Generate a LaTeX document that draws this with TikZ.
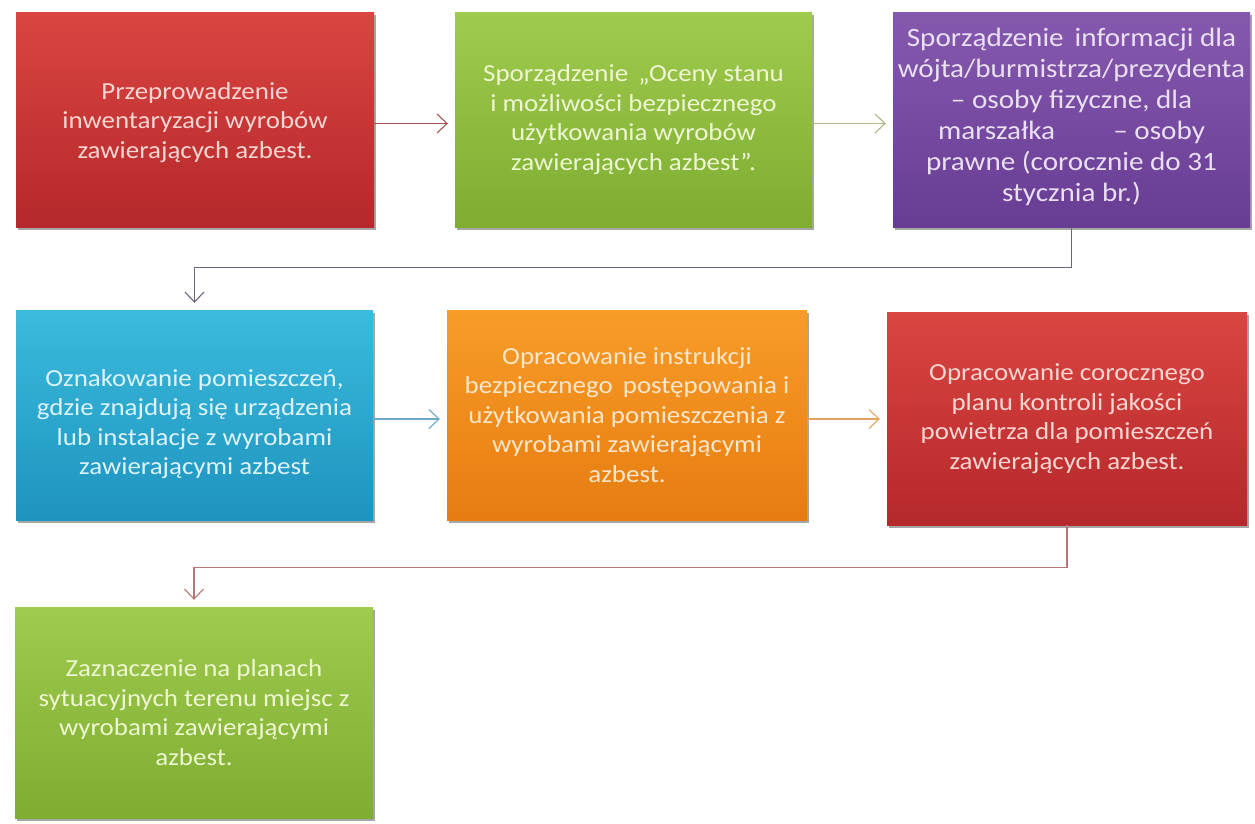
\documentclass[tikz,border=0pt]{standalone}
\usepackage{fontspec}
\setmainfont{Carlito}[FakeStretch=1.1]
\usetikzlibrary{arrows.meta,shadows}
\definecolor{redT}{HTML}{DA4541}
\definecolor{redB}{HTML}{B5282B}
\definecolor{redTxt}{HTML}{F7D6D2}
\definecolor{grnT}{HTML}{9FCB4E}
\definecolor{grnB}{HTML}{7EAD31}
\definecolor{grnTxt}{HTML}{EEF6D2}
\definecolor{purT}{HTML}{8459AE}
\definecolor{purB}{HTML}{673C93}
\definecolor{purTxt}{HTML}{EADFF3}
\definecolor{bluT}{HTML}{3BBBDD}
\definecolor{bluB}{HTML}{1E93BE}
\definecolor{bluTxt}{HTML}{DDF3FA}
\definecolor{orgT}{HTML}{F89C28}
\definecolor{orgB}{HTML}{E67C10}
\definecolor{orgTxt}{HTML}{FDE7CB}
\definecolor{cRed}{HTML}{A8524F}
\definecolor{cGrn}{HTML}{A9BA86}
\definecolor{cPur}{HTML}{6F6478}
\definecolor{cBlu}{HTML}{6AAAC2}
\definecolor{cOrg}{HTML}{E3A262}
\definecolor{cRed2}{HTML}{B87574}
\tikzset{
  card/.style={inner sep=0pt, draw=none,
    drop shadow={shadow xshift=2pt, shadow yshift=-3pt, opacity=0.35, fill=black}},
  redcard/.style={card, top color=redT, bottom color=redB},
  grncard/.style={card, top color=grnT, bottom color=grnB},
  purcard/.style={card, top color=purT, bottom color=purB},
  blucard/.style={card, top color=bluT, bottom color=bluB},
  orgcard/.style={card, top color=orgT, bottom color=orgB},
  txt/.style={inner sep=0pt, align=center, font=\fontsize{24.5}{29.5}\selectfont},
  bigtxt/.style={txt, font=\fontsize{26.5}{31}\selectfont},
  conn/.style={line width=1.1pt, -{Straight Barb[length=10pt,width=19pt,line width=1.1pt]}, shorten >=7pt},
}
\begin{document}
\begin{tikzpicture}[x=1pt,y=-1pt]
\useasboundingbox (0,0) rectangle (1255,823);
\fill[white] (0,0) rectangle (1255,823);
% row 1
\node[redcard, minimum width=358pt, minimum height=215pt] (b1) at (195,119.5) {};
\node[txt, text=redTxt] (t1) at ([yshift=-3pt]b1.center)
  {Przeprowadzenie\\inwentaryzacji wyrobów\\zawierających azbest.};
\node[grncard, minimum width=357pt, minimum height=215pt] (b2) at (633.5,119.5) {};
\node[txt, text=grnTxt] (t2) at (b2.center)
  {Sporządzenie \,„Oceny stanu\\i możliwości bezpiecznego\\użytkowania wyrobów\\zawierających azbest”.};
\node[purcard, minimum width=357pt, minimum height=215pt] (b3) at (1071.5,119.5) {};
\node[bigtxt, text=purTxt] (t3) at ([yshift=3pt]b3.center)
  {Sporządzenie \,informacji dla\\wójta/burmistrza/prezydenta\\– osoby fizyczne, dla\\marszałka\hspace{2.2em}– osoby\\prawne (corocznie do 31\\stycznia br.)};
% row 2
\node[blucard, minimum width=357pt, minimum height=210pt] (b4) at (194.5,415) {};
\node[txt, text=bluTxt] (t4) at ([yshift=-9pt]b4.center)
  {Oznakowanie pomieszczeń,\\gdzie znajdują się urządzenia\\lub instalacje z wyrobami\\zawierającymi azbest};
\node[orgcard, minimum width=360pt, minimum height=210pt] (b5) at (627,415) {};
\node[txt, text=orgTxt] (t5) at (b5.center)
  {Opracowanie instrukcji\\bezpiecznego \,postępowania i\\użytkowania pomieszczenia z\\wyrobami zawierającymi\\azbest.};
\node[redcard, minimum width=360pt, minimum height=213pt] (b6) at (1067,418.5) {};
\node[txt, text=redTxt] (t6) at (b6.center)
  {Opracowanie corocznego\\planu kontroli jakości\\powietrza dla pomieszczeń\\zawierających azbest.};
% row 3
\node[grncard, minimum width=358pt, minimum height=211pt] (b7) at (194,712.5) {};
\node[txt, text=grnTxt] (t7) at (b7.center)
  {Zaznaczenie na planach\\sytuacyjnych terenu miejsc z\\wyrobami zawierającymi\\azbest.};
% connectors
\draw[conn, cRed] ([yshift=-4pt]b1.east) -- ([yshift=-4pt]b1.east -| b2.west);
\draw[conn, cGrn] ([yshift=-4pt]b2.east) -- ([yshift=-4pt]b2.east -| b3.west);
\draw[conn, cPur] (b3.south) -- ++(0,40) -| (b4.north);
\draw[conn, cBlu] ([yshift=-4pt]b4.east) -- ([yshift=-4pt]b4.east -| b5.west);
\draw[conn, cOrg] ([yshift=-4pt]b5.east) -- ([yshift=-4pt]b5.east -| b6.west);
\draw[conn, cRed2] (b6.south) -- ++(0,42) -| (b7.north);
\end{tikzpicture}
\end{document}
